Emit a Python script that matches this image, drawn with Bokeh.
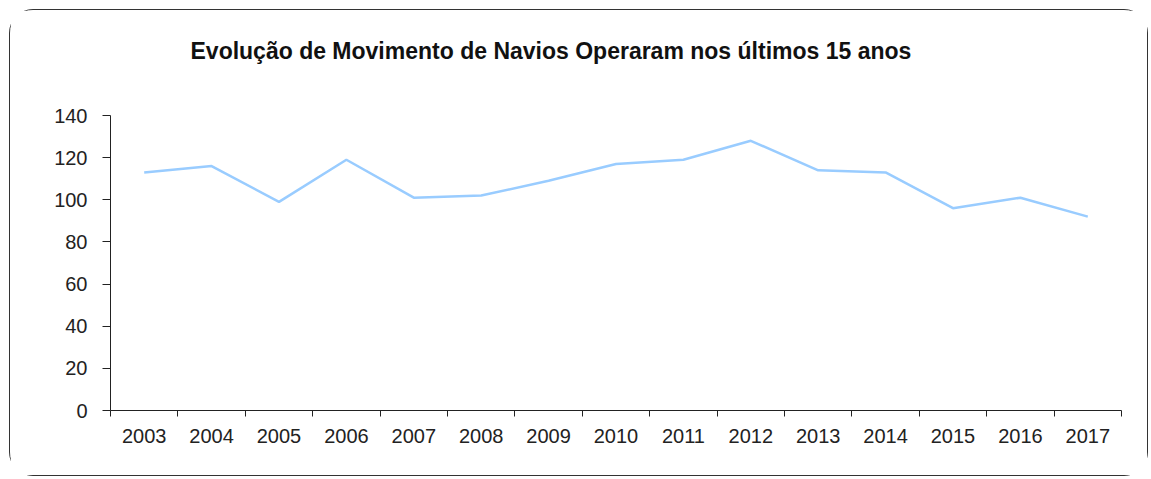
from bokeh.plotting import figure
from bokeh.models import FixedTicker, Range1d, Title, ColumnDataSource
from bokeh.embed import file_html
from bokeh.resources import INLINE

title_text = "Evolução de Movimento de  Navios Operaram nos últimos  15  anos"
years = ["2003", "2004", "2005", "2006", "2007", "2008", "2009", "2010",
         "2011", "2012", "2013", "2014", "2015", "2016", "2017"]
navios = [113, 116, 99, 119, 101, 102, 109, 117, 119, 128, 114, 113, 96, 101, 92]
y_ticks = [0, 20, 40, 60, 80, 100, 120, 140]

xpos = [i + 0.5 for i in range(len(years))]
src = ColumnDataSource(dict(x=xpos, y=navios))

p = figure(width=1139, height=467, output_backend="svg", toolbar_location=None,
           title=None,
           x_range=Range1d(0, len(years)), y_range=Range1d(0, 140),
           min_border_left=100, min_border_right=28, min_border_top=105,
           min_border_bottom=67)
p.margin = (9, 0, 0, 9)
p.styles = {"border": "1.5px solid #333333", "border-radius": "24px"}
p.outline_line_color = None
p.xgrid.visible = False
p.ygrid.visible = False

p.line("x", "y", source=src, line_color="#99CCFF", line_width=2.5)

# spacer between plot area and title
p.add_layout(Title(text=" ", text_font_size="10px", standoff=39), "above")
p.add_layout(Title(text=title_text, align="left", offset=80,
                   text_font="Liberation Sans", text_font_size="23px",
                   text_font_style="bold", text_color="#111111", standoff=0),
             "above")

xa = p.xaxis[0]
xa.ticker = FixedTicker(ticks=xpos, minor_ticks=list(range(len(years) + 1)))
xa.major_label_overrides = {x: y for x, y in zip(xpos, years)}
xa.major_tick_out = 0
xa.major_tick_in = 0
xa.minor_tick_out = 6
xa.minor_tick_in = 0
xa.minor_tick_line_color = "#222222"
xa.axis_line_color = "#222222"
xa.major_label_text_font = "Liberation Sans"
xa.major_label_text_font_size = "20px"
xa.major_label_text_color = "#222222"
xa.major_label_standoff = 12

ya = p.yaxis[0]
ya.ticker = FixedTicker(ticks=y_ticks)
ya.minor_tick_line_color = None
ya.major_tick_out = 8
ya.major_tick_in = 0
ya.major_tick_line_color = "#222222"
ya.axis_line_color = "#222222"
ya.major_label_text_font = "Liberation Sans"
ya.major_label_text_font_size = "20px"
ya.major_label_text_color = "#222222"
ya.major_label_standoff = 15

open("out.html", "w").write(file_html(p, INLINE))
